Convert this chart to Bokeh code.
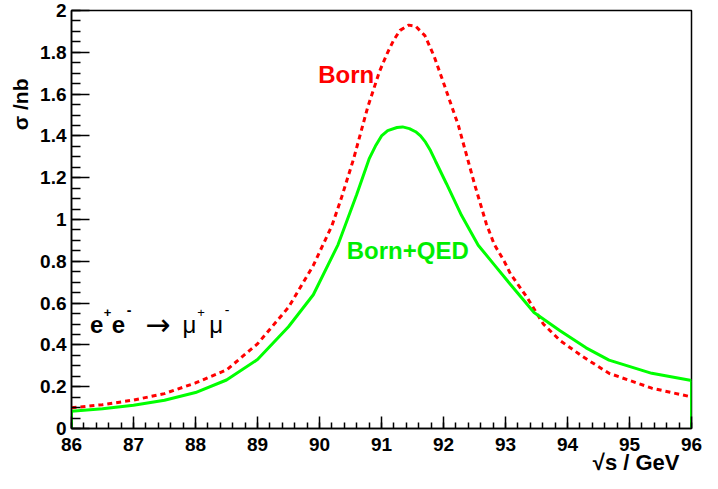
import numpy as np
from bokeh.plotting import figure
from bokeh.models import FixedTicker, Label, Range1d, Title
from bokeh.embed import file_html
from bokeh.resources import INLINE

# ---- data ----
born_x = [86.0, 86.5, 87.0, 87.5, 88.0, 88.5, 89.0, 89.5, 89.9, 90.2, 90.35, 90.55,
          90.78, 90.97, 91.1, 91.2, 91.3, 91.44, 91.55, 91.7, 91.85, 91.97, 92.24, 92.37,
          92.5, 92.69, 92.82, 92.98, 93.08, 93.35, 93.61, 93.88, 94.25, 94.67, 95.36, 96.0]
born_y = [0.099, 0.114, 0.136, 0.167, 0.218, 0.280, 0.405, 0.58, 0.78, 0.97, 1.10, 1.29,
          1.54, 1.71, 1.80, 1.86, 1.905, 1.93, 1.925, 1.88, 1.78, 1.68, 1.45, 1.31,
          1.17, 0.98, 0.88, 0.80, 0.74, 0.626, 0.50, 0.421, 0.343, 0.264, 0.193, 0.151]

qed_x = [86.0, 86.5, 87.0, 87.5, 88.0, 88.5, 89.0, 89.5, 89.9, 90.3, 90.6, 90.8, 90.9,
         91.0, 91.1, 91.25, 91.34, 91.45, 91.55, 91.63, 91.71, 91.79, 91.87, 92.05, 92.29,
         92.56, 92.82, 93.08, 93.46, 93.88, 94.30, 94.67, 95.36, 96.0]
qed_y = [0.083, 0.094, 0.111, 0.135, 0.172, 0.232, 0.330, 0.487, 0.64, 0.88, 1.12, 1.29, 1.35,
         1.40, 1.425, 1.44, 1.443, 1.435, 1.42, 1.40, 1.37, 1.33, 1.28, 1.17, 1.02,
         0.877, 0.783, 0.689, 0.555, 0.468, 0.386, 0.327, 0.264, 0.230]

x_ticks = [86, 87, 88, 89, 90, 91, 92, 93, 94, 95, 96]
x_tick_labels = ["86", "87", "88", "89", "90", "91", "92", "93", "94", "95", "96"]
y_ticks = [0, 0.2, 0.4, 0.6, 0.8, 1.0, 1.2, 1.4, 1.6, 1.8, 2.0]
y_tick_labels = ["0", "0.2", "0.4", "0.6", "0.8", "1", "1.2", "1.4", "1.6", "1.8", "2"]

FONT = "Liberation Sans"

p = figure(width=702, height=473, output_backend="svg", toolbar_location=None,
           x_range=Range1d(86, 96), y_range=Range1d(0, 2),
           min_border_left=69, min_border_right=11, min_border_top=10, min_border_bottom=45)
p.xgrid.visible = False
p.ygrid.visible = False
p.outline_line_color = "black"
p.outline_line_width = 1.5
p.background_fill_color = "white"
p.border_fill_color = "white"

p.xaxis.ticker = FixedTicker(ticks=x_ticks, minor_ticks=list(np.round(np.arange(86, 96.001, 0.2), 3)))
p.yaxis.ticker = FixedTicker(ticks=y_ticks, minor_ticks=list(np.round(np.arange(0, 2.001, 0.05), 3)))
p.xaxis.major_label_overrides = {t: l for t, l in zip(x_ticks, x_tick_labels)}
p.yaxis.major_label_overrides = {t: l for t, l in zip(y_ticks, y_tick_labels)}

for ax in (p.xaxis[0], p.yaxis[0]):
    ax.axis_line_color = "black"
    ax.axis_line_width = 1.5
    ax.major_tick_line_color = "black"
    ax.minor_tick_line_color = "black"
    ax.major_tick_line_width = 1.5
    ax.minor_tick_line_width = 1.5
    ax.major_tick_out = 0
    ax.minor_tick_out = 0
    ax.major_label_text_font = FONT
    ax.major_label_text_font_style = "bold"
    ax.major_label_text_font_size = "19px"
    ax.major_label_text_color = "black"

p.xaxis.major_tick_in = 12
p.xaxis.minor_tick_in = 6
p.xaxis.major_label_standoff = 9
p.yaxis.major_tick_in = 18
p.yaxis.minor_tick_in = 9
p.yaxis.major_label_standoff = 5

# axis titles as layout titles (not clipped by the frame)
xt = Title(text="\u221as / GeV", align="right", offset=12,
           text_font=FONT, text_font_style="bold", text_font_size="22px",
           text_color="black")
try:
    xt.standoff = -12
except Exception:
    xt.standoff = 0
p.add_layout(xt, "below")
p.add_layout(Title(text="\u03c3 /nb", align="right", offset=68, standoff=12,
                   text_font=FONT, text_font_style="bold", text_font_size="21px",
                   text_color="black"), "left")

# curves
p.line(born_x, born_y, line_color="#ff0000", line_width=3, line_dash="5 4")
p.line(qed_x, qed_y, line_color="#00ff00", line_width=3)
p.segment(x0=[qed_x[0], qed_x[-1]], y0=[0, 0], x1=[qed_x[0], qed_x[-1]],
          y1=[qed_y[0], qed_y[-1]], line_color="#00ff00", line_width=3)

def lab(x, y, text, size, color="black", style="bold", font=FONT):
    p.add_layout(Label(x=x, y=y, text=text, text_font=font, text_font_style=style,
                       text_font_size=size, text_color=color, text_align="left",
                       text_baseline="alphabetic"))

# curve labels
lab(89.98, 1.693, "Born", "24px", color="#ff0000")
lab(90.44, 0.854, "Born+QED", "24px", color="#00ee00")

# reaction e+ e- -> mu+ mu-
lab(86.30, 0.50, "e", "24px")
lab(86.52, 0.557, "+", "13px")
lab(86.651, 0.50, "e", "24px")
lab(86.89, 0.566, "-", "14px")
lab(87.19, 0.50, "\u2192", "30px", style="normal", font="DejaVu Sans")
lab(87.79, 0.50, "\u03bc", "24px", style="normal")
lab(88.03, 0.557, "+", "13px", style="normal")
lab(88.22, 0.50, "\u03bc", "24px", style="normal")
lab(88.47, 0.566, "-", "14px", style="normal")

open("out.html", "w").write(file_html(p, INLINE))
